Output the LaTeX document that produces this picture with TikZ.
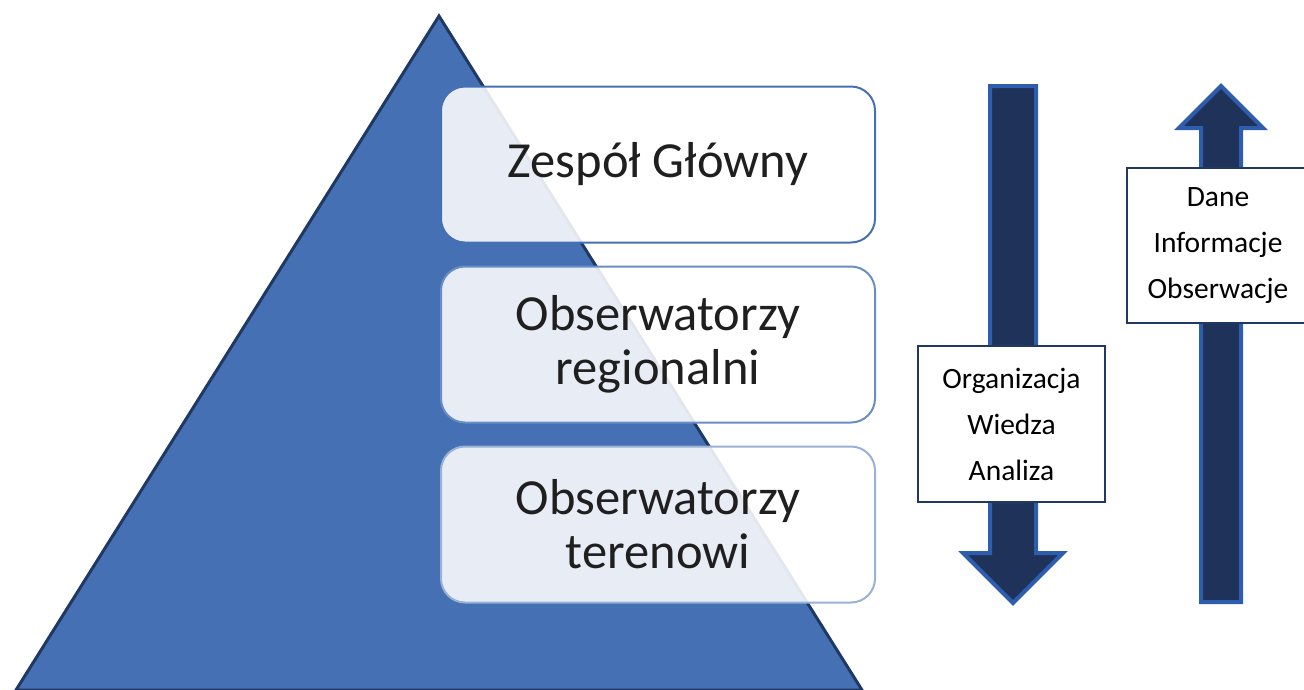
\documentclass[tikz,border=0pt]{standalone}
\usepackage{fontspec}
\setmainfont{Carlito}
\usetikzlibrary{positioning}

\definecolor{pyrblue}{HTML}{4571B4}
\definecolor{pyrdark}{HTML}{1F3864}
\definecolor{arrfill}{HTML}{1F3259}
\definecolor{arredge}{HTML}{2E5DAD}

\tikzset{
  level/.style={draw, rounded corners=24pt, line width=2pt, fill=white,
    fill opacity=0.88, text opacity=1, minimum width=434pt,
    minimum height=156pt, align=center, text=black!88,
    font=\fontsize{50.5}{54}\selectfont},
  flow/.style={fill=arrfill, draw=arredge, line width=4pt},
  tag/.style={draw=pyrdark, line width=1.2pt, fill=white, align=center,
    font=\fontsize{29.5}{46}\selectfont}
}

\begin{document}
\begin{tikzpicture} [x=1pt, y=-1pt, node distance=22pt]
\useasboundingbox (0,0) rectangle (1304,689);
% pyramid
\draw[fill=pyrblue, draw=pyrdark, line width=3pt, line join=miter]
  (439,16) -- (862,690) -- (16,690) -- cycle;
% levels
\node[level, draw=pyrblue] (ZG) at (658,164.5) {Zespół Główny};
\node[level, draw=pyrblue!80, below=of ZG] (OR) {Obserwatorzy\\regionalni};
\node[level, draw=pyrblue!55, below=of OR] (OT) {Obserwatorzy\\terenowi};
% arrows
\draw[flow] (990,86) -- (1036,86) -- (1036,553) -- (1063,553) -- (1013,603)
  -- (963,553) -- (990,553) -- cycle;
\draw[flow] (1201,602) -- (1241,602) -- (1241,128) -- (1263,128) -- (1221,86)
  -- (1179,128) -- (1201,128) -- cycle;
\node[tag, minimum width=187pt, minimum height=156pt] (down) at (1011.5,424)
  {Organizacja\\Wiedza\\Analiza};
\node[tag, minimum width=182pt, minimum height=155pt] (up) at (1218,245.5)
  {Dane\\Informacje\\Obserwacje};
\end{tikzpicture}
\end{document}
